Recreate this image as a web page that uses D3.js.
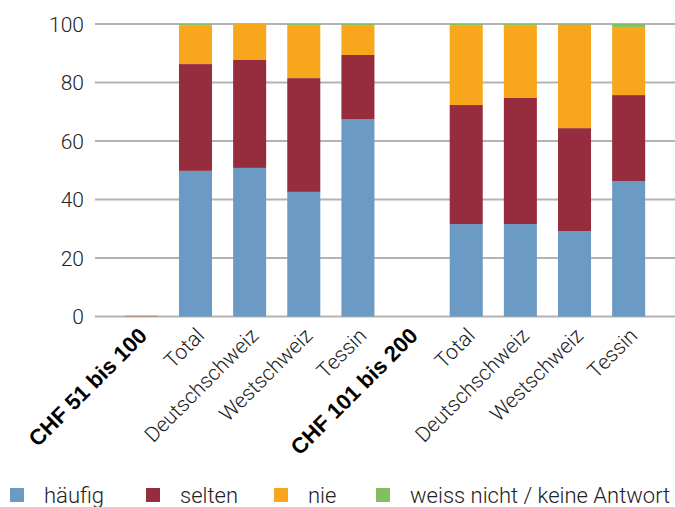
<!DOCTYPE html>
<html lang="de">
<head>
<meta charset="utf-8">
<title>Stacked bars</title>
<script src="https://d3js.org/d3.v7.min.js"></script>
<style>
    body, html { margin: 0; padding: 0; background: #fff; overflow: hidden; }
    .tick-label { font: 300 21px Roboto, sans-serif; fill: #222; }
    .cat { font: 300 21px Roboto, sans-serif; fill: #222; }
    .cat.head { font: bold 22px "Liberation Sans", Arial, sans-serif; fill: #000; }
    .legend text { font: 300 22px Roboto, sans-serif; fill: #222; }
</style>
</head>
<body>
<svg width="675" height="507"></svg>
<script>
// categories (headers are shown in bold)
var categories = ["CHF 51 bis 100", "Total", "Deutschschweiz", "Westschweiz", "Tessin",
                  "CHF 101 bis 200", "Total", "Deutschschweiz", "Westschweiz", "Tessin"];
var headers = [true, false, false, false, false, true, false, false, false, false];

// series values in percent
var haeufig = [0, 49.8, 50.8, 42.6, 67.5, 0, 31.6, 31.6, 29.2, 46.3];
var selten  = [0.1, 36.5, 36.9, 38.9, 21.9, 0, 40.7, 43.1, 35.2, 29.4];
var nie     = [0.2, 13.3, 12.3, 18.1, 10.0, 0, 27.3, 24.9, 35.4, 23.3];
var weiss   = [0, 0.4, 0, 0.4, 0.6, 0, 0.4, 0.4, 0.2, 1.0];

var seriesNames = ["häufig", "selten", "nie", "weiss nicht / keine Antwort"];
var seriesColors = ["#6b9ac4", "#962d3e", "#f8a61c", "#84bf5f"];
var yTicks = [0, 20, 40, 60, 80, 100];

var svg = d3.select("svg");

var rows = categories.map(function (c, i) {
    return { key: i, name: c, s0: haeufig[i], s1: selten[i], s2: nie[i], s3: weiss[i] };
});

var x = d3.scaleBand()
    .domain(d3.range(categories.length))
    .range([114, 656])
    .paddingInner(0.39)
    .paddingOuter(0.2);

var y = d3.scaleLinear().domain([0, 100]).range([316.5, 24]);

// gridlines
svg.append("g")
    .selectAll("line")
    .data(yTicks)
    .enter().append("line")
    .attr("x1", 95).attr("x2", 675)
    .attr("y1", function (d) { return y(d); })
    .attr("y2", function (d) { return y(d); })
    .attr("stroke", "#b3b3b3")
    .attr("stroke-width", 2);

// y tick labels
svg.append("g")
    .selectAll("text")
    .data(yTicks)
    .enter().append("text")
    .attr("class", "tick-label")
    .attr("x", 84)
    .attr("y", function (d) { return y(d); })
    .attr("dy", "0.36em")
    .attr("text-anchor", "end")
    .text(function (d) { return d; });

var stack = d3.stack().keys(["s0", "s1", "s2", "s3"]);
var layers = stack(rows);

svg.append("g")
    .selectAll("g")
    .data(layers)
    .enter().append("g")
    .attr("fill", function (d, i) { return seriesColors[i]; })
    .selectAll("rect")
    .data(function (d) { return d; })
    .enter().append("rect")
    .attr("x", function (d) { return x(d.data.key); })
    .attr("width", x.bandwidth())
    .attr("y", function (d) { return y(d[1]); })
    .attr("height", function (d) { return Math.max(0, y(d[0]) - y(d[1])); });

// category labels, rotated
svg.append("g")
    .selectAll("text")
    .data(categories)
    .enter().append("text")
    .attr("class", function (d, i) { return headers[i] ? "cat head" : "cat"; })
    .attr("text-anchor", "end")
    .attr("transform", function (d, i) {
        var cx = x(i) + x.bandwidth() / 2;
        return "translate(" + (cx + (headers[i] ? 7 : 10)) + "," + 337 + ") rotate(-45)";
    })
    .text(function (d) { return d; });

// legend
var legendX = [10, 146, 274, 376];
var legend = svg.append("g").attr("class", "legend");
seriesNames.forEach(function (name, i) {
    legend.append("rect")
        .attr("x", legendX[i]).attr("y", 488)
        .attr("width", 14).attr("height", 14)
        .attr("fill", seriesColors[i]);
    legend.append("text")
        .attr("x", legendX[i] + 34).attr("y", 503)
        .text(name);
});
</script>
</body>
</html>
